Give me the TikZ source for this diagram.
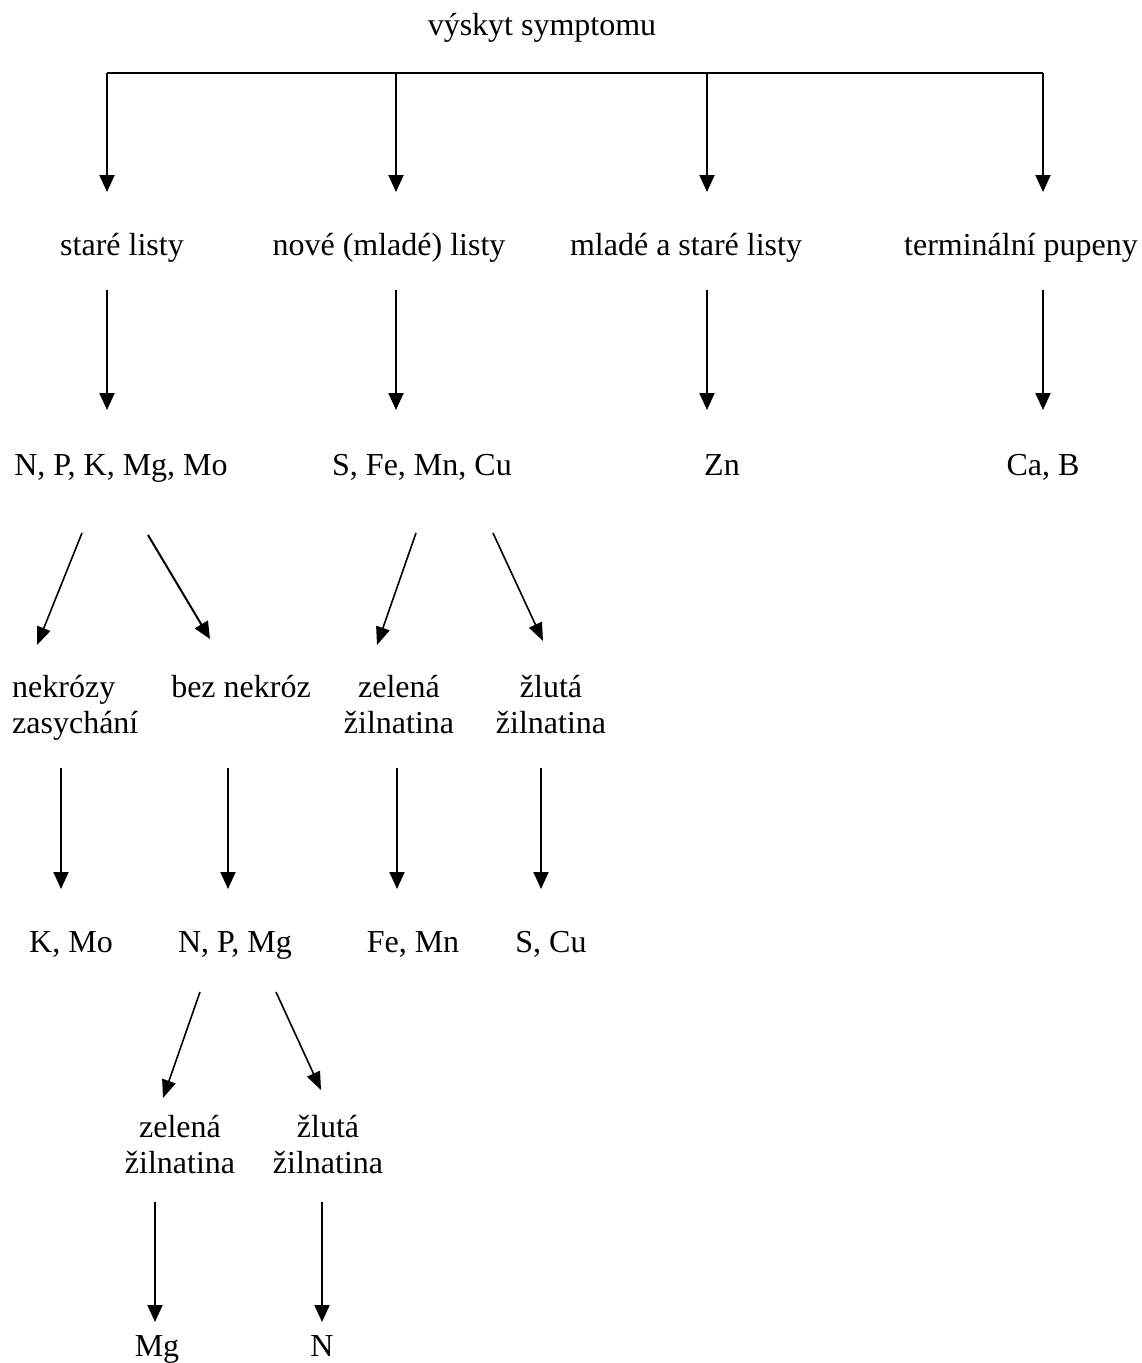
\documentclass[tikz,border=0pt]{standalone}
\usepackage{fontspec}
\setmainfont{Liberation Serif}
\usetikzlibrary{arrows.meta}
\begin{document}
\begin{tikzpicture}[x=1pt,y=-1pt,
  lbl/.style={inner sep=0pt, anchor=base, font=\fontsize{32}{36}\selectfont, align=center},
  lbll/.style={lbl, align=left},
  bar/.style={line width=2pt},
  arr/.style={line width=2pt, -{Triangle[width=15pt,length=17pt]}},
  darr/.style={line width=1.6pt, -{Triangle[width=14pt,length=18pt]}}]
\useasboundingbox (0,0) rectangle (1141,1363);

% labels (multi-line nodes: base = baseline of last line)
\node[lbl] (top) at (542,35) {výskyt symptomu};
\node[lbl] (stare) at (122,255) {staré listy};
\node[lbl] (nove) at (389,255) {nové (mladé) listy};
\node[lbl] (mlst) at (686,255) {mladé a staré listy};
\node[lbl] (term) at (1021,255) {terminální pupeny};
\node[lbl] (npkmgmo) at (121,475) {N, P, K, Mg, Mo};
\node[lbl] (sfemncu) at (422,475) {S, Fe, Mn, Cu};
\node[lbl] (zn) at (722,475) {Zn};
\node[lbl] (cab) at (1043,475) {Ca, B};
\node[lbll, anchor=base west] (nekr) at (12,733) {nekrózy\\zasychání};
\node[lbl] (beznekr) at (241,697) {bez nekróz};
\node[lbl] (zel1) at (399,733) {zelená\\žilnatina};
\node[lbl] (zlu1) at (551,733) {žlutá\\žilnatina};
\node[lbl] (kmo) at (71,952) {K, Mo};
\node[lbl] (npmg) at (235,952) {N, P, Mg};
\node[lbl] (femn) at (413,952) {Fe, Mn};
\node[lbl] (scu) at (551,952) {S, Cu};
\node[lbl] (zel2) at (180,1173) {zelená\\žilnatina};
\node[lbl] (zlu2) at (328,1173) {žlutá\\žilnatina};
\node[lbl] (mg) at (157,1356) {Mg};
\node[lbl] (n) at (322,1356) {N};

% top bar
\coordinate (b1) at (107,73);
\coordinate (b2) at (396,73);
\coordinate (b3) at (707,73);
\coordinate (b4) at (1043,73);
\coordinate (t1) at (107,192);
\coordinate (t2) at (396,192);
\coordinate (t3) at (707,192);
\coordinate (t4) at (1043,192);
\draw[bar] (b1) -- (b4);
\draw[arr] (b1) -- (t1);
\draw[arr] (b2) -- (t2);
\draw[arr] (b3) -- (t3);
\draw[arr] (b4) -- (t4);

% row 2 -> row 3
\coordinate (s1) at (107,290); \coordinate (e1) at (107,410);
\coordinate (s2) at (396,290); \coordinate (e2) at (396,410);
\coordinate (s3) at (707,290); \coordinate (e3) at (707,410);
\coordinate (s4) at (1043,290); \coordinate (e4) at (1043,410);
\draw[arr] (s1) -- (e1);
\draw[arr] (s2) -- (e2);
\draw[arr] (s3) -- (e3);
\draw[arr] (s4) -- (e4);

% row 3 -> row 4 (diagonals)
\coordinate (d1s) at (82,533);  \coordinate (d1e) at (37,645);
\coordinate (d2s) at (148,535); \coordinate (d2e) at (210,639);
\coordinate (d3s) at (416,533); \coordinate (d3e) at (377,645);
\coordinate (d4s) at (493,533); \coordinate (d4e) at (543,641);
\draw[darr] (d1s) -- (d1e);
\draw[arr] (d2s) -- (d2e);
\draw[darr] (d3s) -- (d3e);
\draw[darr] (d4s) -- (d4e);

% row 4 -> row 5
\coordinate (f1s) at (61,768);  \coordinate (f1e) at (61,889);
\coordinate (f2s) at (228,768); \coordinate (f2e) at (228,889);
\coordinate (f3s) at (397,768); \coordinate (f3e) at (397,889);
\coordinate (f4s) at (541,768); \coordinate (f4e) at (541,889);
\draw[arr] (f1s) -- (f1e);
\draw[arr] (f2s) -- (f2e);
\draw[arr] (f3s) -- (f3e);
\draw[arr] (f4s) -- (f4e);

% row 5 -> row 6 (diagonals)
\coordinate (g1s) at (200,992); \coordinate (g1e) at (163,1098);
\coordinate (g2s) at (276,992); \coordinate (g2e) at (321,1090);
\draw[darr] (g1s) -- (g1e);
\draw[darr] (g2s) -- (g2e);

% row 6 -> row 7
\coordinate (h1s) at (155,1202); \coordinate (h1e) at (155,1322);
\coordinate (h2s) at (322,1202); \coordinate (h2e) at (322,1322);
\draw[arr] (h1s) -- (h1e);
\draw[arr] (h2s) -- (h2e);
\end{tikzpicture}
\end{document}
